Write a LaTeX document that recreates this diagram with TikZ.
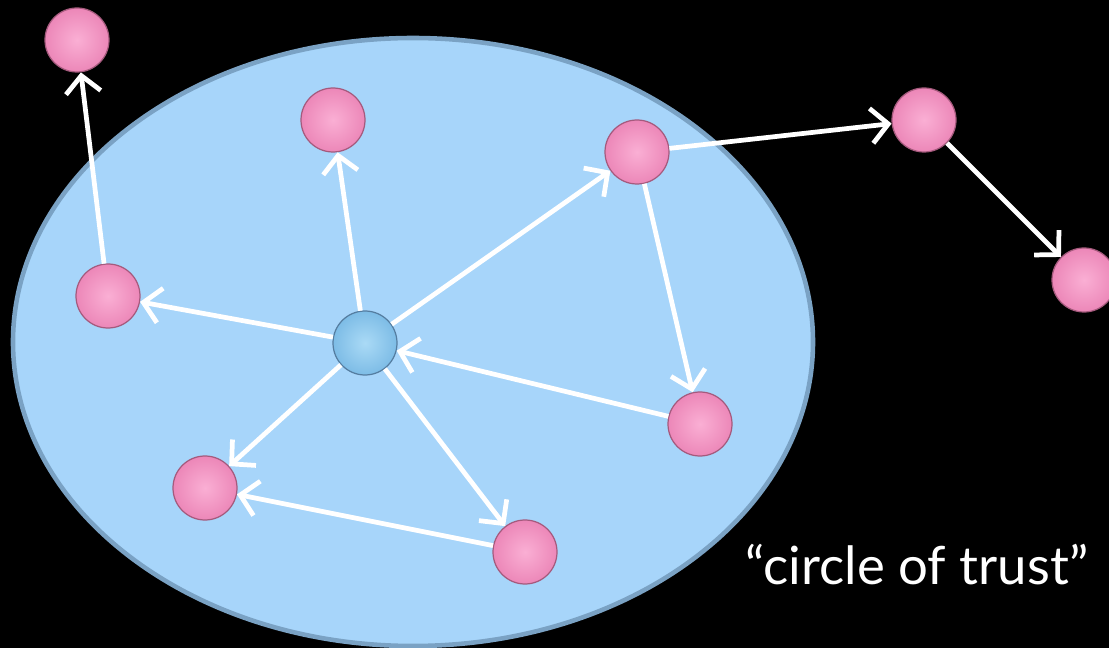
\documentclass[tikz,border=0pt]{standalone}
\usepackage{fontspec}
\setmainfont{Lato}
\usetikzlibrary{arrows.meta}
\definecolor{bgc}{RGB}{0,0,0}
\definecolor{ellfill}{RGB}{167,213,250}
\definecolor{elldraw}{RGB}{122,162,196}
\definecolor{pinkin}{RGB}{250,175,212}
\definecolor{pinkout}{RGB}{236,135,184}
\definecolor{pinkedge}{RGB}{165,90,125}
\definecolor{bluein}{RGB}{170,218,246}
\definecolor{blueout}{RGB}{125,188,230}
\definecolor{blueedge}{RGB}{85,125,160}
\tikzset{
  x=0.02cm, y=-0.02cm,
  pinknode/.style={circle, minimum size=64*0.02cm, inner sep=0pt,
    inner color=pinkin, outer color=pinkout, draw=pinkedge, line width=0.7pt},
  bluenode/.style={circle, minimum size=64*0.02cm, inner sep=0pt,
    inner color=bluein, outer color=blueout, draw=blueedge, line width=0.7pt},
  edge/.style={draw=white, line width=2.7pt,
    -{Straight Barb[length=3.4mm, width=7mm, line width=2.7pt]}},
  lbl/.style={text=white, font=\fontsize{30}{34}\selectfont, inner sep=0pt}
}
\begin{document}
\begin{tikzpicture}
\fill[bgc] (0,0) rectangle (1109,648);
\useasboundingbox (0,0) rectangle (1109,648);
\clip (0,0) rectangle (1109,648);
\draw[fill=ellfill, draw=elldraw, line width=2.6pt] (413,342) ellipse [x radius=400*0.02cm, y radius=304*0.02cm];
\node[pinknode] (A) at (77,40) {};
\node[pinknode] (B) at (333,120) {};
\node[pinknode] (C) at (637,152) {};
\node[pinknode] (D) at (924,120) {};
\node[pinknode] (E) at (1084,280) {};
\node[pinknode] (F) at (108,296) {};
\node[bluenode] (G) at (365,343) {};
\node[pinknode] (H) at (700,424) {};
\node[pinknode] (I) at (205,488) {};
\node[pinknode] (J) at (525,552) {};
\draw[edge] (F) -- (A);
\draw[edge] (G) -- (B);
\draw[edge] (G) -- (C);
\draw[edge] (G) -- (F);
\draw[edge] (G) -- (I);
\draw[edge] (G) -- (J);
\draw[edge] (H) -- (G);
\draw[edge] (C) -- (D);
\draw[edge] (C) -- (H);
\draw[edge] (D) -- (E);
\draw[edge] (J) -- (I);
\node[lbl] (T) at (917,565) {“circle of trust”};
\end{tikzpicture}
\end{document}
